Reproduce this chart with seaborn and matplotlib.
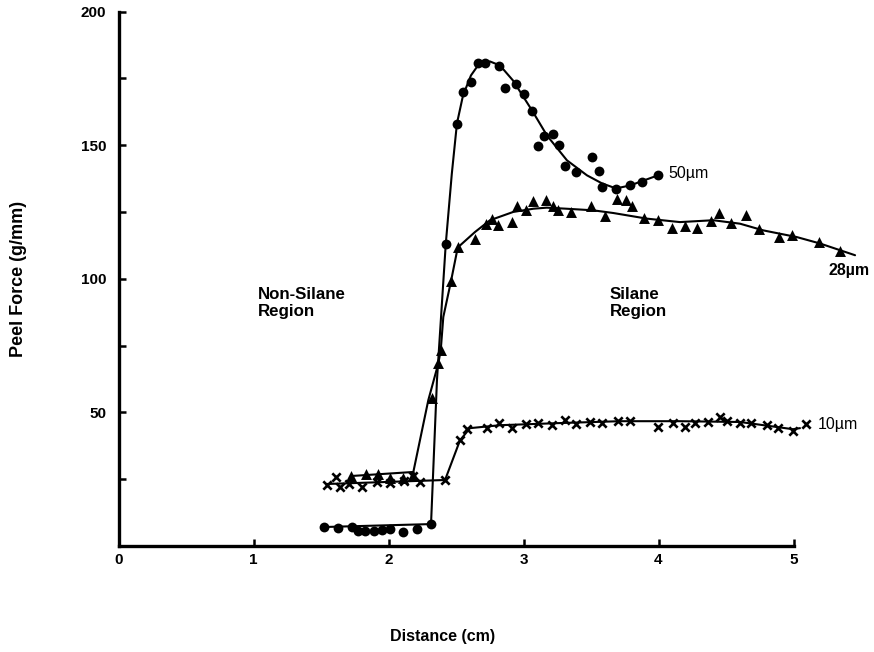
import numpy as np
import pandas as pd
import matplotlib
matplotlib.use("Agg")
import matplotlib.pyplot as plt
import seaborn as sns

# ---------------- data ----------------
# 50 um film: measured points
x50 = [1.522, 1.624, 1.727, 1.776, 1.826, 1.893, 1.950, 2.011, 2.110, 2.213, 2.317,
       2.424, 2.505, 2.554, 2.611, 2.661, 2.715, 2.821, 2.863, 2.944, 3.006, 3.063,
       3.107, 3.152, 3.216, 3.265, 3.310, 3.387, 3.507, 3.559, 3.579, 3.687, 3.787,
       3.878, 3.994]
y50 = [7.2, 6.8, 7.1, 5.7, 5.7, 5.7, 6.1, 6.5, 5.3, 6.2, 8.3,
       112.9, 158.0, 169.8, 173.7, 180.9, 180.9, 179.7, 171.3, 173.0, 169.1, 162.7,
       149.5, 153.6, 154.0, 150.2, 142.1, 139.9, 145.4, 140.3, 134.5, 133.6, 135.1,
       136.2, 138.7]
# 50 um film: hand-drawn curve
cx50 = [1.522, 2.315, 2.359, 2.424, 2.469, 2.507, 2.552, 2.611, 2.678, 2.752, 2.826,
        2.922, 3.063, 3.174, 3.322, 3.470, 3.581, 3.685, 3.789, 3.996]
cy50 = [7.1, 8.2, 62.1, 112.9, 139.3, 158.1, 168.6, 176.1, 180.9, 181.3, 179.8,
        174.2, 163.0, 153.6, 144.3, 138.7, 135.7, 133.8, 134.9, 138.7]

# 28 um film: measured points
x28 = [1.724, 1.831, 1.924, 2.011, 2.107, 2.184,
       2.320, 2.369, 2.387, 2.463, 2.513, 2.641, 2.722, 2.767, 2.813, 2.917, 2.950,
       3.016, 3.073, 3.164, 3.216, 3.258, 3.352, 3.500, 3.606, 3.690, 3.757, 3.806,
       3.893, 3.999, 4.098, 4.196, 4.283, 4.387, 4.450, 4.537, 4.646, 4.744, 4.893,
       4.991, 5.191, 5.344]
y28 = [26.2, 26.8, 26.8, 25.5, 25.4, 26.5,
       55.2, 68.3, 73.3, 99.1, 111.7, 115.0, 120.3, 122.4, 120.0, 121.2, 127.1,
       125.9, 129.0, 129.3, 127.2, 125.6, 124.9, 127.2, 123.5, 129.7, 129.3, 127.2,
       122.9, 121.9, 119.0, 119.7, 119.0, 121.6, 124.7, 120.9, 124.0, 118.5, 115.6,
       116.5, 113.8, 110.3]
# 28 um film: hand-drawn curve
cx28 = [1.727, 2.184, 2.295, 2.369, 2.387, 2.406, 2.463, 2.513, 2.641, 2.752, 2.924,
        3.073, 3.172, 3.320, 3.517, 3.665, 3.913, 4.159, 4.406, 4.604, 4.776, 5.024,
        5.196, 5.456]
cy28 = [26.2, 27.7, 54.6, 68.3, 73.3, 85.7, 99.1, 111.7, 117.5, 121.9, 125.0,
        126.2, 126.6, 126.2, 125.6, 124.6, 122.5, 121.2, 121.9, 120.6, 118.1, 115.6,
        113.2, 108.8]

# 10 um film: measured points
x10 = [1.542, 1.611, 1.641, 1.710, 1.806, 1.913, 2.011, 2.115, 2.179, 2.233, 2.419,
       2.530, 2.579, 2.727, 2.821, 2.913, 3.016, 3.105, 3.209, 3.307, 3.389, 3.493,
       3.579, 3.702, 3.789, 3.999, 4.105, 4.196, 4.270, 4.369, 4.456, 4.505, 4.604,
       4.685, 4.801, 4.887, 4.999, 5.093]
y10 = [22.8, 25.9, 22.2, 23.2, 21.9, 23.8, 23.4, 24.4, 26.3, 24.0, 24.7,
       39.6, 43.7, 44.2, 45.9, 44.2, 45.5, 45.9, 45.2, 47.1, 45.5, 46.5,
       46.2, 46.8, 46.8, 44.6, 46.2, 44.6, 45.9, 46.5, 48.3, 46.8, 46.2,
       45.9, 45.2, 44.0, 43.1, 45.5]
# 10 um film: hand-drawn curve
cx10 = [1.542, 2.419, 2.530, 2.604, 2.826, 3.270, 3.715, 4.159, 4.604, 4.996, 5.048]
cy10 = [23.2, 24.7, 39.6, 44.1, 45.2, 46.0, 46.7, 46.7, 46.4, 43.7, 44.1]

series_labels = ["50\u00b5m", "28\u00b5m", "10\u00b5m"]
region_labels = ["Non-Silane\nRegion", "Silane\nRegion"]
x_ticks = [0, 1, 2, 3, 4, 5]
y_ticks = [0, 25, 50, 75, 100, 125, 150, 175, 200]
y_tick_labels = ["", "", "50", "", "100", "", "150", "", "200"]
x_label = "Distance (cm)"
y_label = "Peel Force (g/mm)"

# ---------------- plotting ----------------
sns.set_style("ticks")
plt.rcParams['font.family'] = ['Liberation Sans', 'DejaVu Sans']
plt.rcParams['font.weight'] = 'bold'
plt.rcParams['text.color'] = 'black'
plt.rcParams['axes.labelcolor'] = 'black'
plt.rcParams['xtick.color'] = 'black'
plt.rcParams['ytick.color'] = 'black'
plt.rcParams['xtick.labelcolor'] = 'black'
plt.rcParams['ytick.labelcolor'] = 'black'

fig = plt.figure(figsize=(8.74, 6.52), dpi=100)
ax = fig.add_axes([118.5 / 874, 106 / 652, 675 / 874, 534.5 / 652])

lw = 1.5
for cx, cy in [(cx50, cy50), (cx28, cy28), (cx10, cy10)]:
    sns.lineplot(x=cx, y=cy, sort=False, estimator=None, color="black",
                 linewidth=lw, ax=ax)

sns.scatterplot(x=x50, y=y50, marker="o", s=50, color="black",
                edgecolor="black", linewidth=0, ax=ax)
sns.scatterplot(x=x28, y=y28, marker="^", s=62, color="black",
                edgecolor="black", linewidth=0, ax=ax)
sns.scatterplot(x=x10, y=y10, marker="x", s=36, color="black",
                linewidth=1.9, ax=ax)

for ln in ax.lines:
    ln.set_clip_on(False)
for col in ax.collections:
    col.set_clip_on(False)

ax.set_xlim(0, 5)
ax.set_ylim(0, 200)
ax.set_xticks(x_ticks)
ax.set_xticklabels([str(t) for t in x_ticks])
ax.set_yticks(y_ticks)
ax.set_yticklabels(y_tick_labels)

sns.despine(ax=ax)
for side in ["left", "bottom"]:
    ax.spines[side].set_linewidth(2.4)
    ax.spines[side].set_color("black")

ax.tick_params(axis="both", direction="in", length=5, width=1.8,
               colors="black", labelcolor="black", labelsize=11)
ax.tick_params(axis="y", pad=9)
ax.tick_params(axis="x", pad=5)
for lab in ax.get_xticklabels() + ax.get_yticklabels():
    lab.set_fontweight("bold")

ax.set_xlabel(x_label, fontsize=11.5, fontweight="bold", color="black")
ax.set_ylabel(y_label, fontsize=13, fontweight="bold", color="black")
ax.xaxis.set_label_coords(0.48, -0.155)
ax.yaxis.set_label_coords(-0.135, 0.5)

# series labels
ax.text(4.07, 139.4, series_labels[0], fontsize=11.5, fontweight="normal",
        ha="left", va="center", clip_on=False, color="black")
ax.text(5.256, 103.2, series_labels[1], fontsize=11.5, fontweight="bold",
        ha="left", va="center", clip_on=False, color="black")
ax.text(5.176, 45.6, series_labels[2], fontsize=11.5, fontweight="normal",
        ha="left", va="center", clip_on=False, color="black")

# region labels
ax.text(1.033, 90.8, region_labels[0], fontsize=12.2, fontweight="bold",
        ha="left", va="center", linespacing=1.15, color="black")
ax.text(3.641, 90.8, region_labels[1], fontsize=12.2, fontweight="bold",
        ha="left", va="center", linespacing=1.15, color="black")

ax.set_facecolor("white")
fig.patch.set_facecolor("white")
fig.savefig("out.png", dpi=100)
